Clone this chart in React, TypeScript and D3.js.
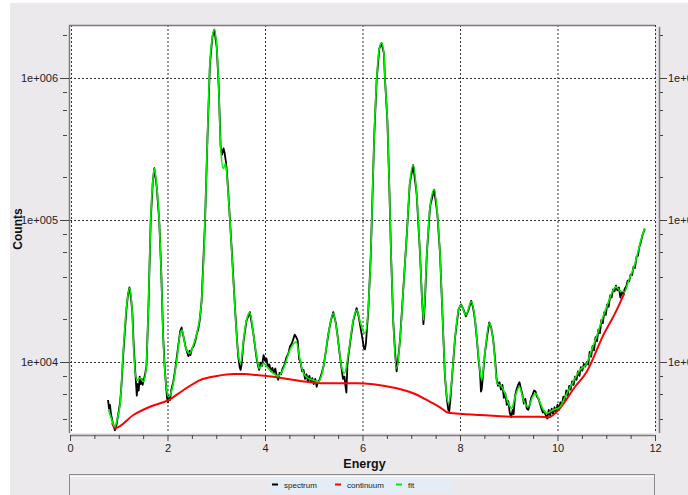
import React from "react";
import * as d3 from "d3";

// ---------- data ----------
const fitPoints: [number, number][] = [
  [0.79, 4590], [0.85, 3980], [0.92, 3500], [0.97, 3980], [1.03, 5130], [1.09, 11560],
  [1.16, 24550], [1.22, 33040], [1.27, 24550], [1.31, 11510], [1.37, 7460], [1.44, 7710],
  [1.50, 7260], [1.56, 8790], [1.61, 25880], [1.655, 100000], [1.70, 191400], [1.73, 231200],
  [1.78, 171800], [1.83, 100000], [1.87, 44460], [1.91, 15070], [1.96, 7460], [2.02, 5700],
  [2.09, 6350], [2.19, 10330], [2.26, 15920], [2.30, 16790], [2.36, 13180], [2.45, 11510],
  [2.53, 13180], [2.63, 17740], [2.70, 27350], [2.77, 100000], [2.82, 386400], [2.87, 1268000],
  [2.92, 1954000], [2.96, 2203000], [3.01, 1660000], [3.05, 869000], [3.09, 328100], [3.145, 231200],
  [3.19, 250600], [3.25, 145900], [3.32, 58210], [3.385, 23230], [3.45, 11510], [3.50, 9795],
  [3.56, 14290], [3.62, 19770], [3.69, 22230], [3.76, 15920], [3.83, 10890], [3.88, 9016],
  [3.97, 9795], [4.07, 9016], [4.17, 8318], [4.27, 7962], [4.38, 9016], [4.51, 12160],
  [4.64, 13900], [4.72, 10330], [4.79, 8318], [4.89, 7674], [4.99, 7464], [5.09, 7261],
  [5.20, 9268], [5.30, 15920], [5.40, 22030], [5.49, 15070], [5.57, 9268], [5.63, 8318],
  [5.71, 11510], [5.81, 19770], [5.88, 23230], [5.96, 18750], [6.05, 15920], [6.12, 24550],
  [6.17, 58210], [6.20, 130900], [6.24, 386400], [6.29, 968300], [6.345, 1618000], [6.39, 1774000],
  [6.44, 1493000], [6.46, 1000000], [6.51, 505800], [6.55, 171800], [6.585, 58210], [6.63, 19770],
  [6.70, 9016], [6.77, 14290], [6.84, 33880], [6.91, 80540], [6.97, 181100], [7.04, 243800],
  [7.11, 154200], [7.18, 58210], [7.25, 19770], [7.32, 58210], [7.385, 124200], [7.47, 164400],
  [7.535, 111400], [7.59, 58210], [7.645, 19770], [7.69, 8318], [7.73, 5702], [7.77, 5117],
  [7.83, 7464], [7.90, 15070], [7.97, 23230], [8.02, 25180], [8.12, 21430], [8.23, 26610],
  [8.31, 19770], [8.38, 10890], [8.445, 7464], [8.51, 11510], [8.60, 18750], [8.68, 14290],
  [8.765, 7079], [8.855, 6699], [8.92, 6026], [8.99, 5117], [9.06, 4721], [9.13, 5702],
  [9.22, 6699], [9.30, 5395], [9.40, 4842], [9.49, 5702], [9.55, 6026], [9.62, 5395],
  [9.71, 4592], [9.78, 4355], [9.91, 4592], [10.05, 4842], [10.19, 6026], [10.32, 7261],
  [10.46, 8790], [10.60, 9795], [10.70, 12160], [10.80, 15070], [10.91, 19770], [11.01, 24550],
  [11.11, 30480], [11.20, 33880], [11.28, 31770], [11.38, 31260], [11.45, 36810], [11.52, 42170],
  [11.59, 49550], [11.66, 61520], [11.73, 76210], [11.79, 87300],
];

const continuumPoints: [number, number][] = [
  [0.86, 3715], [0.93, 3428], [1.30, 4236], [1.64, 4842], [2.02, 5395], [2.33, 6353],
  [2.67, 7464], [3.01, 7962], [3.35, 8222], [3.59, 8222], [3.83, 8091], [4.17, 7889],
  [4.51, 7551], [4.86, 7261], [5.20, 7079], [5.54, 7079], [5.88, 7079], [6.22, 6966],
  [6.46, 6776], [6.70, 6531], [7.04, 6026], [7.385, 5248], [7.59, 4797], [7.76, 4395],
  [8.07, 4305], [8.41, 4236], [8.75, 4169], [9.09, 4121], [9.64, 4121], [9.81, 4074],
  [10.05, 4721], [10.36, 6699], [10.60, 8551], [10.94, 15490], [11.18, 22030], [11.37, 30480],
];

const spectrumPoints: [number, number][] = [
  [0.78, 5400], [0.80, 4700], [0.82, 5000], [0.84, 4300], [0.86, 4000], [0.88, 3700], [0.90, 3500],
  [0.92, 3300], [0.94, 3450], [0.96, 3700], [0.98, 4100], [1.00, 4500], [1.03, 5300], [1.06, 7200],
  [1.09, 11000], [1.12, 15500], [1.16, 24000], [1.19, 30000], [1.22, 33500], [1.25, 28500],
  [1.28, 22000], [1.31, 12500], [1.34, 8500], [1.37, 5800], [1.39, 7000], [1.41, 6300], [1.43, 7900],
  [1.45, 7000], [1.47, 7600], [1.49, 6900], [1.51, 7400], [1.54, 8200], [1.57, 9500], [1.61, 25000],
  [1.655, 98000], [1.70, 190000], [1.73, 232000], [1.78, 170000], [1.83, 99000], [1.87, 45000],
  [1.91, 15500], [1.94, 9500], [1.97, 6800], [1.99, 5600], [2.01, 5200], [2.03, 5800], [2.05, 5400],
  [2.08, 6400], [2.12, 7300], [2.16, 9000], [2.19, 10800], [2.22, 13000], [2.26, 16500], [2.29, 17500],
  [2.31, 16000], [2.34, 14500], [2.37, 12800], [2.40, 11800], [2.43, 11000], [2.45, 12000], [2.47, 11200],
  [2.50, 12400], [2.53, 12800], [2.57, 14000], [2.60, 15800], [2.63, 17000], [2.66, 19500], [2.70, 27000],
  [2.77, 98000], [2.82, 380000], [2.87, 1250000], [2.92, 1950000], [2.96, 2200000], [3.01, 1650000],
  [3.05, 880000], [3.09, 330000], [3.12, 290000], [3.15, 320000], [3.17, 300000], [3.20, 255000],
  [3.22, 215000], [3.25, 150000], [3.32, 60000], [3.385, 24000], [3.42, 15500], [3.45, 11000],
  [3.48, 9200], [3.50, 8800], [3.52, 9600], [3.56, 14000], [3.62, 19500], [3.69, 22500], [3.76, 16000],
  [3.80, 12500], [3.83, 10500], [3.86, 9300], [3.88, 8800], [3.91, 9900], [3.94, 9400], [3.97, 11200],
  [4.00, 10200], [4.03, 10600], [4.06, 9200], [4.09, 9600], [4.12, 8600], [4.15, 9100], [4.18, 8400],
  [4.21, 9000], [4.24, 8000], [4.27, 7500], [4.30, 8400], [4.33, 8200], [4.36, 9000], [4.40, 9600],
  [4.44, 10800], [4.48, 11500], [4.51, 12800], [4.55, 13500], [4.58, 14500], [4.61, 15600], [4.64, 15000],
  [4.67, 14200], [4.70, 10500], [4.73, 10000], [4.76, 8600], [4.79, 8800], [4.82, 7600], [4.85, 8200],
  [4.88, 7300], [4.91, 8000], [4.94, 7200], [4.97, 7700], [5.00, 7000], [5.03, 7600], [5.06, 6700],
  [5.09, 7300], [5.12, 7500], [5.16, 8300], [5.20, 9300], [5.25, 12000], [5.30, 15800], [5.35, 19500],
  [5.40, 22500], [5.45, 19000], [5.49, 15200], [5.53, 11500], [5.57, 9000], [5.60, 7600], [5.63, 7900],
  [5.65, 6800], [5.67, 6100], [5.69, 9500], [5.71, 11000], [5.76, 14800], [5.81, 19500], [5.85, 22000],
  [5.88, 24000], [5.92, 21000], [5.96, 17500], [6.00, 14500], [6.03, 12500], [6.05, 12300], [6.07, 13500],
  [6.12, 23500], [6.17, 57000], [6.20, 130000], [6.24, 385000], [6.29, 965000], [6.345, 1615000],
  [6.39, 1770000], [6.44, 1490000], [6.46, 1000000], [6.51, 505000], [6.55, 172000], [6.585, 58000],
  [6.63, 19500], [6.67, 11500], [6.70, 8600], [6.73, 10500], [6.77, 14300], [6.84, 33900], [6.91, 80500],
  [6.97, 181000], [7.04, 244000], [7.11, 154000], [7.18, 58000], [7.22, 28000], [7.25, 18500],
  [7.28, 26000], [7.32, 58000], [7.385, 124000], [7.47, 164000], [7.535, 111000], [7.59, 58000],
  [7.645, 19700], [7.69, 8000], [7.73, 5500], [7.76, 4600], [7.78, 4500], [7.80, 5300], [7.83, 7300],
  [7.90, 15000], [7.97, 23500], [8.02, 25500], [8.07, 23500], [8.12, 21000], [8.17, 23000], [8.23, 27000],
  [8.27, 24000], [8.31, 19500], [8.35, 14000], [8.38, 10500], [8.41, 8500], [8.43, 6200], [8.445, 6400],
  [8.47, 8000], [8.51, 11500], [8.56, 15500], [8.60, 19000], [8.64, 17500], [8.68, 14500], [8.72, 10500],
  [8.75, 7600], [8.78, 6800], [8.81, 7200], [8.84, 6400], [8.87, 6900], [8.90, 5600], [8.93, 6000],
  [8.96, 5000], [8.99, 5300], [9.02, 4400], [9.05, 4100], [9.08, 4600], [9.10, 4300], [9.13, 5800],
  [9.16, 6400], [9.19, 6900], [9.22, 7200], [9.25, 6500], [9.28, 5900], [9.31, 5100], [9.34, 5500],
  [9.37, 4700], [9.40, 4600], [9.43, 5000], [9.46, 5600], [9.49, 5900], [9.52, 6300], [9.55, 6200],
  [9.58, 5700], [9.61, 5500], [9.64, 5100], [9.67, 4700], [9.70, 4400], [9.73, 4500], [9.76, 4200],
  [9.79, 4000], [9.82, 4600], [9.85, 4200], [9.88, 4700], [9.91, 4300], [9.94, 4800], [9.97, 4400],
  [10.00, 5000], [10.03, 4600], [10.06, 5200], [10.09, 5000], [10.12, 5700], [10.15, 5400], [10.18, 6300],
  [10.21, 5800], [10.24, 6800], [10.27, 6400], [10.30, 7300], [10.33, 6900], [10.36, 7900], [10.39, 7500],
  [10.42, 8600], [10.45, 8000], [10.48, 9200], [10.51, 8700], [10.54, 9700], [10.57, 9300], [10.60, 10000],
  [10.63, 9600], [10.66, 11800], [10.69, 10900], [10.72, 13000], [10.75, 12100], [10.78, 15000],
  [10.81, 14000], [10.84, 17000], [10.87, 16000], [10.90, 19800], [10.93, 18800], [10.96, 22500],
  [10.99, 21500], [11.02, 25500], [11.05, 24500], [11.08, 29500], [11.11, 28500], [11.14, 32500],
  [11.17, 31500], [11.20, 34500], [11.23, 32000], [11.26, 33500], [11.29, 28500], [11.32, 31000],
  [11.35, 30000], [11.38, 33000], [11.41, 34000], [11.44, 37500], [11.47, 37000], [11.50, 41500],
  [11.53, 41000], [11.56, 47000], [11.59, 46000], [11.62, 55000], [11.65, 56000], [11.68, 65000],
  [11.71, 70000], [11.74, 78000], [11.77, 83000], [11.79, 87000],
];

const xMajorTicks = [0, 2, 4, 6, 8, 10, 12];
const xMinorTicks = [0.5, 1, 1.5, 2.5, 3, 3.5, 4.5, 5, 5.5, 6.5, 7, 7.5, 8.5, 9, 9.5, 10.5, 11, 11.5];
const yMajorTicks = [1e4, 1e5, 1e6];
const yTickLabels = ["1e+004", "1e+005", "1e+006"];
const yMinorMultipliers = [2, 4, 6, 8];
const yDecades = [1e3, 1e4, 1e5, 1e6];
const legendItems = [
  { label: "spectrum", color: "#000000" },
  { label: "continuum", color: "#ff0000" },
  { label: "fit", color: "#00ee00" },
];

// ---------- layout ----------
const W = 688;
const H = 495;
const PL = 70, PR = 655, PT = 25, PB = 433;
const FONT = "'Liberation Sans', Arial, sans-serif";

export default function App() {
  const x = d3.scaleLinear().domain([0, 12]).range([PL, PR]);
  const y = d3.scaleLog().domain([Math.pow(10, 3.5), Math.pow(10, 6.375)]).range([PB, PT]);
  const line = d3
    .line<[number, number]>()
    .x((d) => x(d[0]))
    .y((d) => y(d[1]));
  const smooth = d3
    .line<[number, number]>()
    .x((d) => x(d[0]))
    .y((d) => y(d[1]))
    .curve(d3.curveMonotoneX);

  const [yLo, yHi] = y.domain();
  const yMinor: number[] = [];
  yDecades.forEach((dec) =>
    yMinorMultipliers.forEach((m) => {
      const v = dec * m;
      if (v >= yLo && v <= yHi) yMinor.push(v);
    })
  );

  const axisColor = "#7a7a7a";
  const gridProps = { stroke: "#333", strokeWidth: 1, strokeDasharray: "2,2" };

  return (
    <svg
      width={W}
      height={H}
      style={{ position: "absolute", left: 0, top: 0, background: "#fff" }}
      fontFamily={FONT}
    >
      <defs>
        <clipPath id="plotClip">
          <rect x={PL} y={PT} width={PR - PL} height={PB - PT} />
        </clipPath>
      </defs>
      <rect x={10} y={3} width={W - 10} height={H - 3} fill="#ece9ec" />
      <rect x={PL} y={PT} width={PR - PL} height={PB - PT} fill="#fff" />

      {/* grid */}
      {xMajorTicks.slice(1, -1).map((t) => (
        <line key={"gx" + t} x1={x(t) + 0.5} x2={x(t) + 0.5} y1={PT} y2={PB} {...gridProps} />
      ))}
      {yMajorTicks.map((t) => (
        <line key={"gy" + t} x1={PL} x2={PR} y1={Math.round(y(t)) + 0.5} y2={Math.round(y(t)) + 0.5} {...gridProps} />
      ))}
      <line x1={PL + 1.5} x2={PL + 1.5} y1={PT} y2={PB} {...gridProps} />
      <line x1={PR + 0.5} x2={PR + 0.5} y1={PT} y2={PB} {...gridProps} />

      {/* data */}
      <g clipPath="url(#plotClip)">
        <path d={line(spectrumPoints) || ""} fill="none" stroke="#000" strokeWidth={1.8} strokeLinejoin="round" />
        <path d={smooth(continuumPoints) || ""} fill="none" stroke="#ff0000" strokeWidth={2} />
        <path d={smooth(fitPoints) || ""} fill="none" stroke="#00ee00" strokeWidth={1.6} />
      </g>

      {/* frame top */}
      <line x1={PL - 1} x2={PR} y1={PT + 0.5} y2={PT + 0.5} stroke={axisColor} strokeWidth={1.5} />

      {/* left axis */}
      <line x1={PL - 0.5} x2={PL - 0.5} y1={PT} y2={PB} stroke={axisColor} strokeWidth={1.5} />
      {yMajorTicks.map((t, i) => (
        <g key={"ly" + t}>
          <line x1={PL - 10} x2={PL - 1} y1={Math.round(y(t)) + 0.5} y2={Math.round(y(t)) + 0.5} stroke="#444" />
          <text x={PL - 12} y={y(t)} dy="0.35em" textAnchor="end" fontSize={11} fill="#222">
            {yTickLabels[i]}
          </text>
        </g>
      ))}
      {yMinor.map((t) => (
        <line key={"lym" + t} x1={PL - 7} x2={PL - 3} y1={Math.round(y(t)) + 0.5} y2={Math.round(y(t)) + 0.5} stroke="#444" />
      ))}

      {/* right axis */}
      <line x1={PR + 4.5} x2={PR + 4.5} y1={PT + 2} y2={PB} stroke={axisColor} strokeWidth={1.5} />
      {yMajorTicks.map((t, i) => (
        <g key={"ry" + t}>
          <line x1={PR + 5} x2={PR + 12} y1={Math.round(y(t)) + 0.5} y2={Math.round(y(t)) + 0.5} stroke="#444" />
          <text x={PR + 13} y={y(t)} dy="0.35em" textAnchor="start" fontSize={11} fill="#222">
            {yTickLabels[i]}
          </text>
        </g>
      ))}
      {yMinor.map((t) => (
        <line key={"rym" + t} x1={PR + 5} x2={PR + 8} y1={Math.round(y(t)) + 0.5} y2={Math.round(y(t)) + 0.5} stroke="#444" />
      ))}

      {/* bottom axis */}
      <line x1={PL} x2={PR} y1={PB + 2.5} y2={PB + 2.5} stroke={axisColor} strokeWidth={1.5} />
      {xMajorTicks.map((t) => (
        <g key={"bx" + t}>
          <line x1={x(t) + 0.5} x2={x(t) + 0.5} y1={PB + 2} y2={PB + 8} stroke="#444" />
          <text x={x(t) + 0.5} y={PB + 19} textAnchor="middle" fontSize={11} fill="#222">
            {t}
          </text>
        </g>
      ))}
      {xMinorTicks.map((t) => (
        <line key={"bxm" + t} x1={x(t) + 0.5} x2={x(t) + 0.5} y1={PB + 2} y2={PB + 6} stroke="#444" />
      ))}

      {/* axis titles */}
      <text x={(PL + PR) / 2 + 2} y={468} textAnchor="middle" fontSize={12.5} fontWeight="bold" fill="#111">
        Energy
      </text>
      <text
        transform={`translate(22, ${(PT + PB) / 2}) rotate(-90)`}
        textAnchor="middle"
        fontSize={12}
        fontWeight="bold"
        fill="#111"
      >
        Counts
      </text>

      {/* legend */}
      <rect x={69.5} y={474.5} width={585} height={24} fill="#ece9ec" stroke="#8a8a8a" strokeWidth={1} />
      <line x1={70} x2={654} y1={476.5} y2={476.5} stroke="#fff" strokeWidth={1} />
      <rect x={270} y={477} width={183} height={16} fill="#e4ecf5" />
      {legendItems.map((it, i) => {
        const lx = [272, 335, 396][i];
        return (
          <g key={it.label}>
            <line x1={lx} x2={lx + 6} y1={484.5} y2={484.5} stroke={it.color} strokeWidth={2} />
            <text x={lx + 12} y={485} dy="0.35em" fontSize={8} fill="#222">
              {it.label}
            </text>
          </g>
        );
      })}
    </svg>
  );
}
